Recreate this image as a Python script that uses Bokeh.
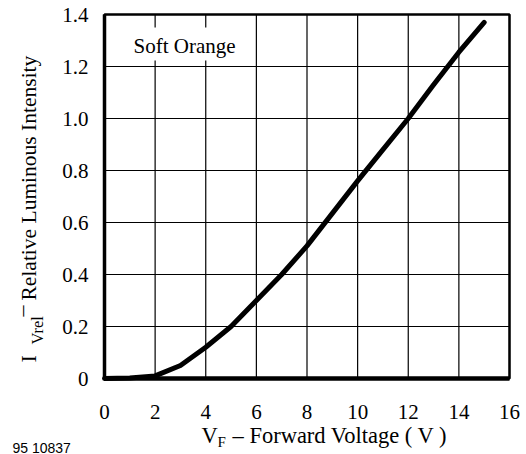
import math
from bokeh.plotting import figure
from bokeh.models import Range1d, FixedTicker, Label, ColumnDataSource, LinearAxis
from bokeh.embed import file_html
from bokeh.resources import INLINE

# ---- data ----
voltage = [0, 1, 2, 3, 4, 5, 6, 7, 8, 9, 10, 11, 12, 13, 14, 15]
intensity = [0.0, 0.002, 0.01, 0.05, 0.12, 0.2, 0.3, 0.4, 0.51, 0.635,
             0.76, 0.88, 1.0, 1.13, 1.255, 1.37]
x_ticks = [0, 2, 4, 6, 8, 10, 12, 14, 16]
y_ticks = [0, 0.2, 0.4, 0.6, 0.8, 1.0, 1.2, 1.4]
y_tick_labels = {0: "0", 1: "1.0"}
legend_text = "Soft Orange"
x_title_main = "V"
x_title_sub = "F"
x_title_rest = "\u2013 Forward Voltage ( V )"
y_title_main = "I"
y_title_sub = "Vrel"
y_title_dash = "\u2013"
y_title_rest = "Relative Luminous Intensity"
fig_code = "95 10837"

# ---- layout (pixels in the 526 x 454 picture) ----
W, H = 526, 454
BOX_L, BOX_R, BOX_T, BOX_B = 104, 509, 14, 378
X0, X1 = x_ticks[0], x_ticks[-1]
Y0, Y1 = y_ticks[0], y_ticks[-1]
PX_X = (BOX_R - BOX_L) / (X1 - X0)
PX_Y = (BOX_B - BOX_T) / (Y1 - Y0)

SERIF = "Liberation Serif"
SHIFT = 0.32  # serif baseline correction, in em

p = figure(width=W, height=H, output_backend="svg", toolbar_location=None,
           x_range=Range1d(X0 - BOX_L / PX_X, X1 + (W - BOX_R) / PX_X),
           y_range=Range1d(Y0 - (H - BOX_B) / PX_Y, Y1 + BOX_T / PX_Y),
           min_border_left=0, min_border_right=0, min_border_top=0,
           min_border_bottom=0, x_axis_type=None, y_axis_type=None)
p.background_fill_color = "white"
p.border_fill_color = "white"
p.outline_line_color = None
p.grid.visible = False

# axes pinned to the chart box corner
xaxis = LinearAxis(fixed_location=Y0, bounds=(X0, X1),
                   ticker=FixedTicker(ticks=x_ticks))
yaxis = LinearAxis(fixed_location=X0, bounds=(Y0, Y1),
                   ticker=FixedTicker(ticks=y_ticks),
                   major_label_overrides=y_tick_labels)
for ax in (xaxis, yaxis):
    ax.major_tick_line_color = None
    ax.minor_tick_line_color = None
    ax.major_label_text_font = SERIF
    ax.major_label_text_font_size = "21px"
    ax.major_label_text_color = "black"
    ax.axis_line_color = "black"
xaxis.axis_line_width = 4.5
yaxis.axis_line_width = 3.5
xaxis.major_label_standoff = 20
yaxis.major_label_standoff = 10
p.add_layout(xaxis, "below")
p.add_layout(yaxis, "left")

# grid lines from the tick positions
p.segment(x0=x_ticks, y0=[Y0] * len(x_ticks), x1=x_ticks, y1=[Y1] * len(x_ticks),
          line_color="black", line_width=1.2)
p.segment(x0=[X0] * len(y_ticks), y0=y_ticks, x1=[X1] * len(y_ticks), y1=y_ticks,
          line_color="black", line_width=1.2)


def dx(px):
    return X0 + (px - BOX_L) / PX_X


def dy(py):
    return Y0 + (BOX_B - py) / PX_Y


# white box behind the legend text
p.quad(left=dx(127), right=dx(242), bottom=dy(60), top=dy(27),
       fill_color="white", line_color=None)

# chart border
p.quad(left=X0, right=X1, bottom=Y0, top=Y1, fill_color=None,
       line_color="black", line_width=2.5)

src = ColumnDataSource(dict(v=voltage, i=intensity))
p.line("v", "i", source=src, line_color="black", line_width=5,
       line_cap="round", line_join="round")


def lab(text, px, py, size, font=SERIF, rotated=False):
    fs = float(size.replace("px", ""))
    corr = SHIFT * fs if font == SERIF else 0.0
    if rotated:
        x, y, ang = dx(px - corr), dy(py), math.pi / 2
    else:
        x, y, ang = dx(px), dy(py - corr), 0.0
    p.add_layout(Label(x=x, y=y, text=text, text_font=font,
                       text_font_size=size, text_color="black",
                       text_align="left", text_baseline="alphabetic",
                       angle=ang))


lab(legend_text, 133, 52, "21px")

lab(x_title_main, 201, 442, "22.5px")
lab(x_title_sub, 217, 446, "15px")
lab(x_title_rest, 232, 442, "22.5px")

lab(y_title_main, 35, 362, "22px", rotated=True)
lab(y_title_sub, 42, 344, "16.5px", rotated=True)
lab(y_title_dash, 28, 316, "22px", rotated=True)
lab(y_title_rest, 35, 300, "21.5px", rotated=True)

lab(fig_code, 12, 447, "14px", font="Liberation Sans")

open("out.html", "w").write(file_html(p, INLINE))
